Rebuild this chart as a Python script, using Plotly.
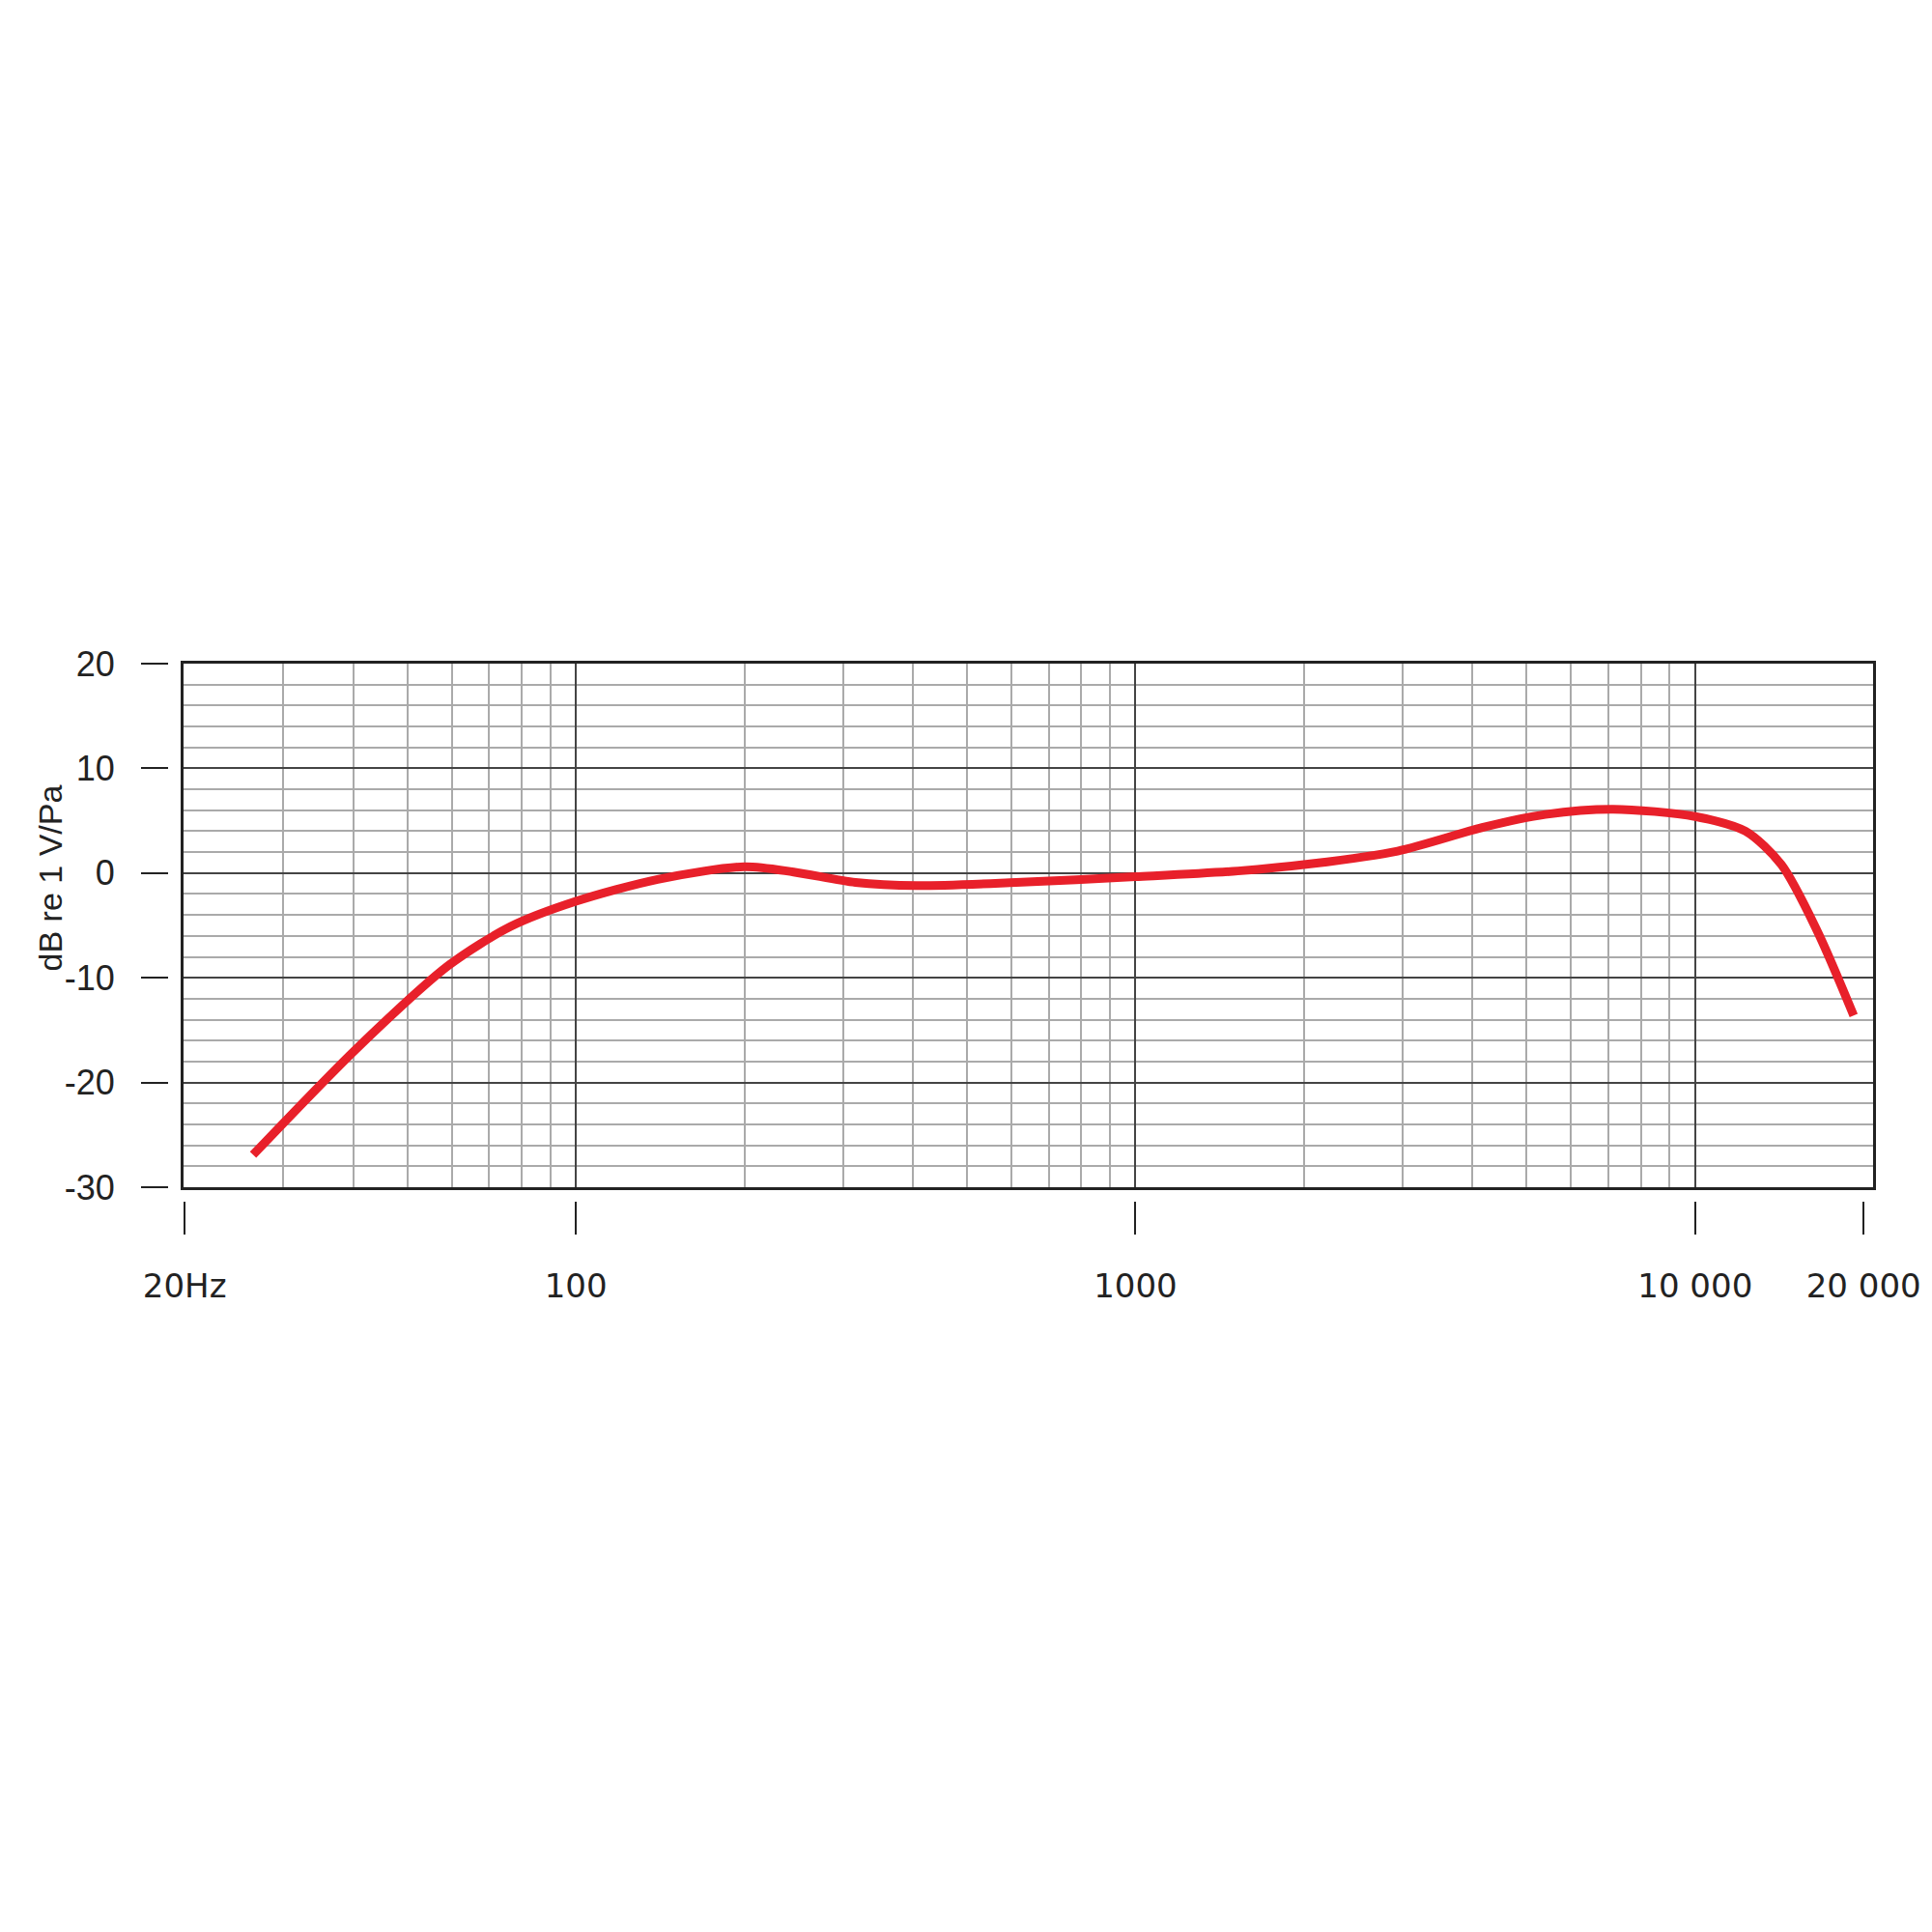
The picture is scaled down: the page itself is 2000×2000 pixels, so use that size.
import plotly.graph_objects as go

freq = [26.5, 40.5, 59.3, 76.5, 100, 140, 200, 245, 316, 407, 612, 1000,
        1524, 2070, 2940, 4200, 5400, 7140, 10000, 12300, 14260, 16550, 19200]
db = [-26.9, -16.8, -8.8, -5.1, -2.7, -0.6, 0.6, 0.1, -0.9, -1.2, -0.9, -0.35,
      0.2, 0.9, 2.1, 4.4, 5.6, 6.1, 5.4, 4.0, 0.8, -5.6, -13.6]

x_tickvals = [20, 100, 1000, 10000, 20000]
x_ticktext = ["20Hz", "100", "1000", "10 000", "20 000"]
x_major = [100, 1000, 10000]
x_minor = [30, 40, 50, 60, 70, 80, 90, 200, 300, 400, 500, 600, 700, 800, 900,
           2000, 3000, 4000, 5000, 6000, 7000, 8000, 9000]
y_tickvals = [20, 10, 0, -10, -20, -30]
y_ticktext = ["20", "10", "0", "-10", "-20", "-30"]

xr = [1.299, 4.318]
yr = [-30, 20]
font = dict(family="Liberation Sans", size=36, color="#222")

fig = go.Figure()
fig.add_trace(go.Scatter(x=freq, y=db, mode="lines", line=dict(color="#e8202a", width=9, shape="spline", smoothing=0.8)))

fig.update_layout(
    width=2000, height=2000, showlegend=False,
    plot_bgcolor="white", paper_bgcolor="white",
    margin=dict(l=166, r=69, t=679, b=765),
    xaxis=dict(type="log", range=xr, domain=[0.00907, 1], tickvals=x_major, showticklabels=False, ticks="",
               showgrid=True, gridcolor="#444", gridwidth=2,
               minor=dict(tickvals=x_minor, showgrid=True, gridcolor="#aaa", gridwidth=1.5, ticks=""),
               showline=True, linecolor="#222", linewidth=3, mirror=True, anchor="y", zeroline=False),
    yaxis=dict(range=yr, domain=[0.0252, 1], tickvals=y_tickvals, showticklabels=False, ticks="",
               showgrid=True, gridcolor="#444", gridwidth=2,
               minor=dict(dtick=2, showgrid=True, gridcolor="#aaa", gridwidth=1.5, ticks=""),
               showline=True, linecolor="#222", linewidth=3, mirror=True, anchor="x", zeroline=False),
    xaxis2=dict(type="log", range=xr, domain=[0.00907, 1], overlaying="x", anchor="free", position=0,
                side="bottom", tickvals=x_tickvals, ticktext=x_ticktext, ticks="outside", ticklen=34,
                tickwidth=2, tickcolor="#222", showgrid=False, showline=False, ticklabelstandoff=24,
                tickfont=dict(family="DejaVu Sans", size=34, color="#222")),
    yaxis2=dict(range=yr, domain=[0.0252, 1], overlaying="y", anchor="free", position=0, side="left",
                tickvals=y_tickvals, ticktext=y_ticktext, ticks="outside", ticklen=28, tickwidth=2,
                tickcolor="#222", showgrid=False, showline=False, ticklabelstandoff=20, tickfont=font,
                zeroline=False),
)
# dummy trace to activate overlay axes
fig.add_trace(go.Scatter(x=[freq[0]], y=[db[0]], xaxis="x2", yaxis="y2", mode="markers",
                         marker=dict(opacity=0), hoverinfo="skip"))
fig.add_annotation(text="dB re 1 V/Pa", xref="paper", yref="paper", x=-0.081, y=0.6,
                   textangle=-90, showarrow=False, font=dict(family="Liberation Sans", size=34, color="#222"))

fig.write_html("out.html")
